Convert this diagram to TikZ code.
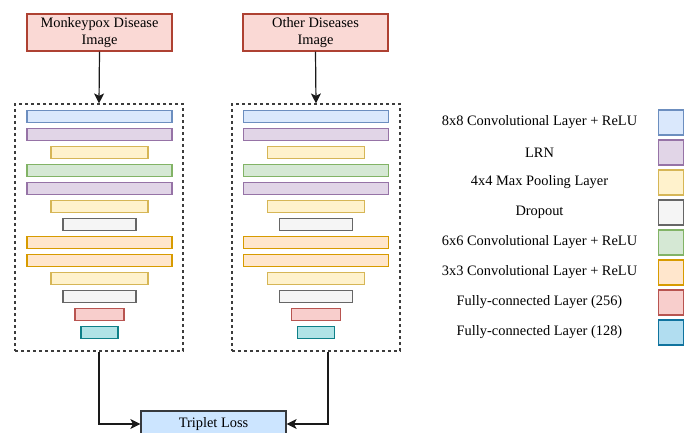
\documentclass[tikz,border=0pt]{standalone}
\usepackage{fontspec}
\setmainfont{Liberation Serif}
\usetikzlibrary{arrows.meta,calc}
\definecolor{bluef}{HTML}{DAE8FC}\definecolor{blued}{HTML}{6C8EBF}
\definecolor{purf}{HTML}{E1D5E7}\definecolor{purd}{HTML}{9673A6}
\definecolor{yelf}{HTML}{FFF2CC}\definecolor{yeld}{HTML}{D6B656}
\definecolor{grayf}{HTML}{F5F5F5}\definecolor{grayd}{HTML}{666666}
\definecolor{grnf}{HTML}{D5E8D4}\definecolor{grnd}{HTML}{82B366}
\definecolor{orf}{HTML}{FFE6CC}\definecolor{ord}{HTML}{D79B00}
\definecolor{redf}{HTML}{F8CECC}\definecolor{redd}{HTML}{B85450}
\definecolor{cyf}{HTML}{B0E3E6}\definecolor{cyd}{HTML}{0E8088}
\definecolor{lbf}{HTML}{B1DDF0}\definecolor{lbd}{HTML}{10739E}
\definecolor{inf}{HTML}{FAD9D5}\definecolor{ind}{HTML}{AE4132}
\definecolor{tlf}{HTML}{CCE5FF}\definecolor{tld}{HTML}{36393D}
\definecolor{lin}{HTML}{1A1A1A}
\tikzset{
  inbox/.style={draw=ind,fill=inf,line width=1.2pt,minimum width=145pt,minimum height=37pt,inner sep=0pt,align=center,font=\fontsize{14.4}{17}\selectfont},
  dbox/.style={draw=lin!85,dashed,line width=1.2pt,minimum width=168pt,minimum height=247pt,inner sep=0pt},
  bar/.style={line width=1.2pt,minimum height=12pt,inner sep=0pt},
  lsq/.style={line width=1.2pt,minimum width=25pt,minimum height=25pt,inner sep=0pt},
  ltext/.style={font=\fontsize{14.4}{17}\selectfont,inner sep=0pt},
  conn/.style={draw=lin,line width=1.2pt,-{Stealth[length=10pt,width=10pt,inset=2.5pt]}},
  tlbox/.style={draw=tld,fill=tlf,line width=1.2pt,minimum width=145pt,minimum height=26pt,inner sep=0pt,font=\fontsize{14.4}{17}\selectfont},
}
\begin{document}
\begin{tikzpicture}[x=1pt,y=-1pt]
\useasboundingbox (0,0) rectangle (689,433);
\clip (0,0) rectangle (689,433);
\node[inbox] (in1) at (99.5,32.5) {Monkeypox Disease\\Image};
\node[inbox] (in2) at (315.5,32.5) {Other Diseases\\Image};
\node[dbox] (c1) at (99,227.5) {};
\node[dbox] (c2) at (316,227.5) {};
\foreach \col/\cx in {a/99.5,b/316}{
  \foreach \i/\w/\f/\d in {0/145/bluef/blued,1/145/purf/purd,2/97/yelf/yeld,3/145/grnf/grnd,4/145/purf/purd,5/97/yelf/yeld,6/73/grayf/grayd,7/145/orf/ord,8/145/orf/ord,9/97/yelf/yeld,10/73/grayf/grayd,11/49/redf/redd,12/37/cyf/cyd}{
    \node[bar,minimum width=\w pt,fill=\f,draw=\d] (\col\i) at (\cx,116.3+18*\i) {};
  }
}
\draw[conn] (in1.south) -- (c1.north);
\draw[conn] (in2.south) -- (c2.north);
\node[tlbox] (tl) at (213.5,424) {Triplet Loss};
\coordinate (o2) at ($(c2.south)+(12,0)$);
\draw[conn] (c1.south) |- (tl.west);
\draw[conn] (o2) |- (tl.east);
\foreach \i/\t/\f/\d in {0/{8x8 Convolutional Layer + ReLU}/bluef/blued,1/LRN/purf/purd,2/{4x4 Max Pooling Layer}/yelf/yeld,3/Dropout/grayf/grayd,4/{6x6 Convolutional Layer + ReLU}/grnf/grnd,5/{3x3 Convolutional Layer + ReLU}/orf/ord,6/{Fully-connected Layer (256)}/redf/redd,7/{Fully-connected Layer (128)}/lbf/lbd}{
  \node[ltext] (lt\i) at (539.5,122.5+30*\i) {\t};
  \node[lsq,fill=\f,draw=\d] (ls\i) at (671,122.5+30*\i) {};
}
\end{tikzpicture}
\end{document}
